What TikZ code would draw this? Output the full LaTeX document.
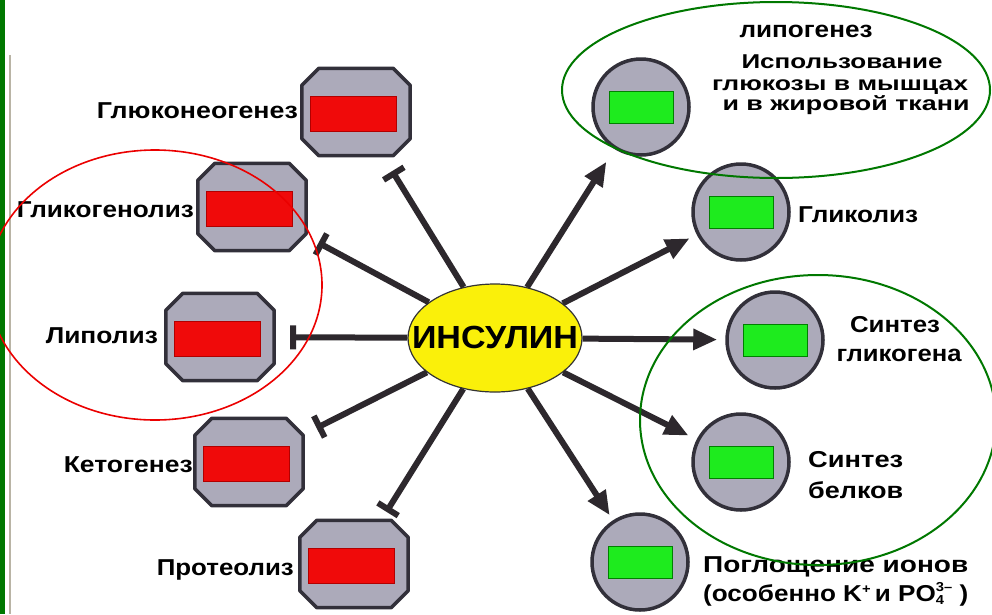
\documentclass[tikz,border=0pt]{standalone}
\usepackage{graphicx}
\usepackage{fontspec}
\setmainfont{Liberation Sans}
\usetikzlibrary{arrows.meta,shapes.geometric,calc}

% scale a text horizontally to a given width, keeping its height
\newcommand\fitw[2]{\resizebox{#1}{\height}{#2}}

\definecolor{linecol}{RGB}{45,40,45}
\definecolor{octgray}{RGB}{172,170,186}
\definecolor{octedge}{RGB}{50,48,58}
\definecolor{redfill}{RGB}{240,10,10}
\definecolor{grnfill}{RGB}{30,235,30}
\definecolor{ringgreen}{RGB}{0,120,0}
\definecolor{ringred}{RGB}{235,0,0}
\definecolor{insyellow}{RGB}{250,240,10}
\definecolor{barline}{RGB}{185,180,165}

\tikzset{
  octframe/.style={rectangle, minimum width=108pt, minimum height=87pt, inner sep=0pt},
  octstyle/.style={fill=octgray, draw=octedge, line width=3.5pt, line join=round},
  circframe/.style={circle, minimum size=96pt, inner sep=0pt, fill=octgray, draw=octedge, line width=3.5pt},
  redbar/.style={rectangle, minimum width=86pt, minimum height=35pt, inner sep=0pt, fill=redfill, draw=red!70!black, line width=0.8pt},
  grnbar/.style={rectangle, minimum width=64pt, minimum height=32pt, inner sep=0pt, fill=grnfill, draw=green!50!black, line width=0.6pt},
  act/.style={draw=linecol, line width=6pt, -{Triangle[length=24pt,width=20pt]}},
  inh/.style={draw=linecol, line width=6pt, -{Bar[width=24pt]}},
  lbl/.style={inner sep=0pt, font=\fontsize{23}{28}\selectfont\bfseries},
  lbls/.style={inner sep=0pt, font=\fontsize{20}{24}\selectfont\bfseries},
  ring/.style={line width=2pt},
}

% grey octagon with a red bar inside
\newcommand\octagonbox[3]{%
  \node[octframe] (#1) at (#2,#3) {};
  \filldraw[octstyle] ([xshift=17pt]#1.north west) -- ([xshift=-17pt]#1.north east)
    -- ([yshift=-17pt]#1.north east) -- ([yshift=17pt]#1.south east)
    -- ([xshift=-17pt]#1.south east) -- ([xshift=17pt]#1.south west)
    -- ([yshift=17pt]#1.south west) -- ([yshift=-17pt]#1.north west) -- cycle;
  \node[redbar] (#1-bar) at ($(#1)+(-3,2)$) {};
}
% grey disc with a green bar inside
\newcommand\roundbox[3]{%
  \node[circframe] (#1) at (#2,#3) {};
  \node[grnbar] (#1-bar) at (#1) {};
}

\begin{document}
\begin{tikzpicture}[x=1pt,y=-1pt]
\useasboundingbox (0,0) rectangle (992,614);
\fill[white] (0,0) rectangle (992,614);

% window frame at the left
\fill[ringgreen] (0,0) rectangle (4.5,614);
\draw[barline, line width=2pt] (10,55) -- (10,614);

% centre
\node[ellipse, minimum width=174pt, minimum height=108pt, inner sep=0pt,
      fill=insyellow, draw=black!80, line width=1.2pt] (ins) at (495,338) {};
\node[inner sep=0pt, anchor=base, font=\fontsize{32}{36}\selectfont\bfseries]
      (ins-t) at (495,348) {\fitw{166pt}{ИНСУЛИН}};

% inhibited processes
\octagonbox{glu}{356}{112}
\octagonbox{glk}{252}{207}
\octagonbox{lip}{220}{337}
\octagonbox{ket}{249}{462}
\octagonbox{pro}{354}{564}

% stimulated processes
\roundbox{use}{641}{107}
\roundbox{gly}{741}{212}
\roundbox{sgl}{775}{340}
\roundbox{spr}{741}{462}
\roundbox{ion}{640}{562}

% connectors
\draw[inh, shorten >=18pt] (ins) -- (glu);
\draw[inh, shorten >=14pt] (ins) -- (glk);
\draw[inh, shorten >=16pt] (ins) -- (lip);
\draw[inh, shorten >=15pt] (ins) -- (ket);
\draw[inh, shorten >=10pt] (ins) -- (pro);
\draw[act, shorten >=15pt] (ins) -- (use);
\draw[act, shorten >=8pt]  (ins) -- (gly);
\draw[act, shorten >=8pt]  (ins) -- (sgl);
\draw[act, shorten >=9pt]  (ins) -- (spr);
\draw[act, shorten >=6pt]  (ins) -- (ion);

% labels, left side
\node[lbl, anchor=base east] (l-glu) at (298,118) {\fitw{201pt}{Глюконеогенез}};
\node[lbl, anchor=base east] (l-glk) at (194,217) {\fitw{177pt}{Гликогенолиз}};
\node[lbl, anchor=base east] (l-lip) at (158,343) {\fitw{112pt}{Липолиз}};
\node[lbl, anchor=base east] (l-ket) at (193,472) {\fitw{129pt}{Кетогенез}};
\node[lbl, anchor=base east] (l-pro) at (294,575) {\fitw{137pt}{Протеолиз}};

% labels, right side
\node[lbls, anchor=base] (l-use1) at (842,68)  {\fitw{201pt}{Использование}};
\node[lbls, anchor=base] (l-use2) at (840,90)  {\fitw{256pt}{глюкозы в мышцах}};
\node[lbls, anchor=base] (l-use3) at (846,110) {\fitw{247pt}{и в жировой ткани}};
\node[lbl, anchor=base west] (l-gly) at (798,222) {\fitw{120pt}{Гликолиз}};
\node[lbl, anchor=base] (l-sgl1) at (895,332) {\fitw{90pt}{Синтез}};
\node[lbl, anchor=base] (l-sgl2) at (899,361) {\fitw{125pt}{гликогена}};
\node[lbl, anchor=base west] (l-spr1) at (808,467) {\fitw{95pt}{Синтез}};
\node[lbl, anchor=base west] (l-spr2) at (808,498) {\fitw{95pt}{белков}};
\node[lbl, anchor=base west] (l-ion1) at (703,572) {\fitw{265pt}{Поглощение ионов}};
\node[lbl, anchor=base west] (l-ion2) at (703,601) {\fitw{265pt}{(особенно K\raisebox{8pt}{\fontsize{13}{13}\selectfont +}\,и PO\makebox[0pt][l]{\raisebox{-3pt}{\fontsize{13}{13}\selectfont 4}}\raisebox{10pt}{\fontsize{13}{13}\selectfont 3–}\;)}};

% groupings
\draw[ringred, line width=1.6pt] (155,285) ellipse [x radius=167pt, y radius=135pt];
\draw[ringgreen, ring] (776,90) ellipse [x radius=214pt, y radius=88pt];
\draw[ringgreen, ring] (818,420) ellipse [x radius=178pt, y radius=145pt];
\node[lbl, anchor=base] (l-lipo) at (806,37) {\fitw{133pt}{липогенез}};
\end{tikzpicture}
\end{document}
